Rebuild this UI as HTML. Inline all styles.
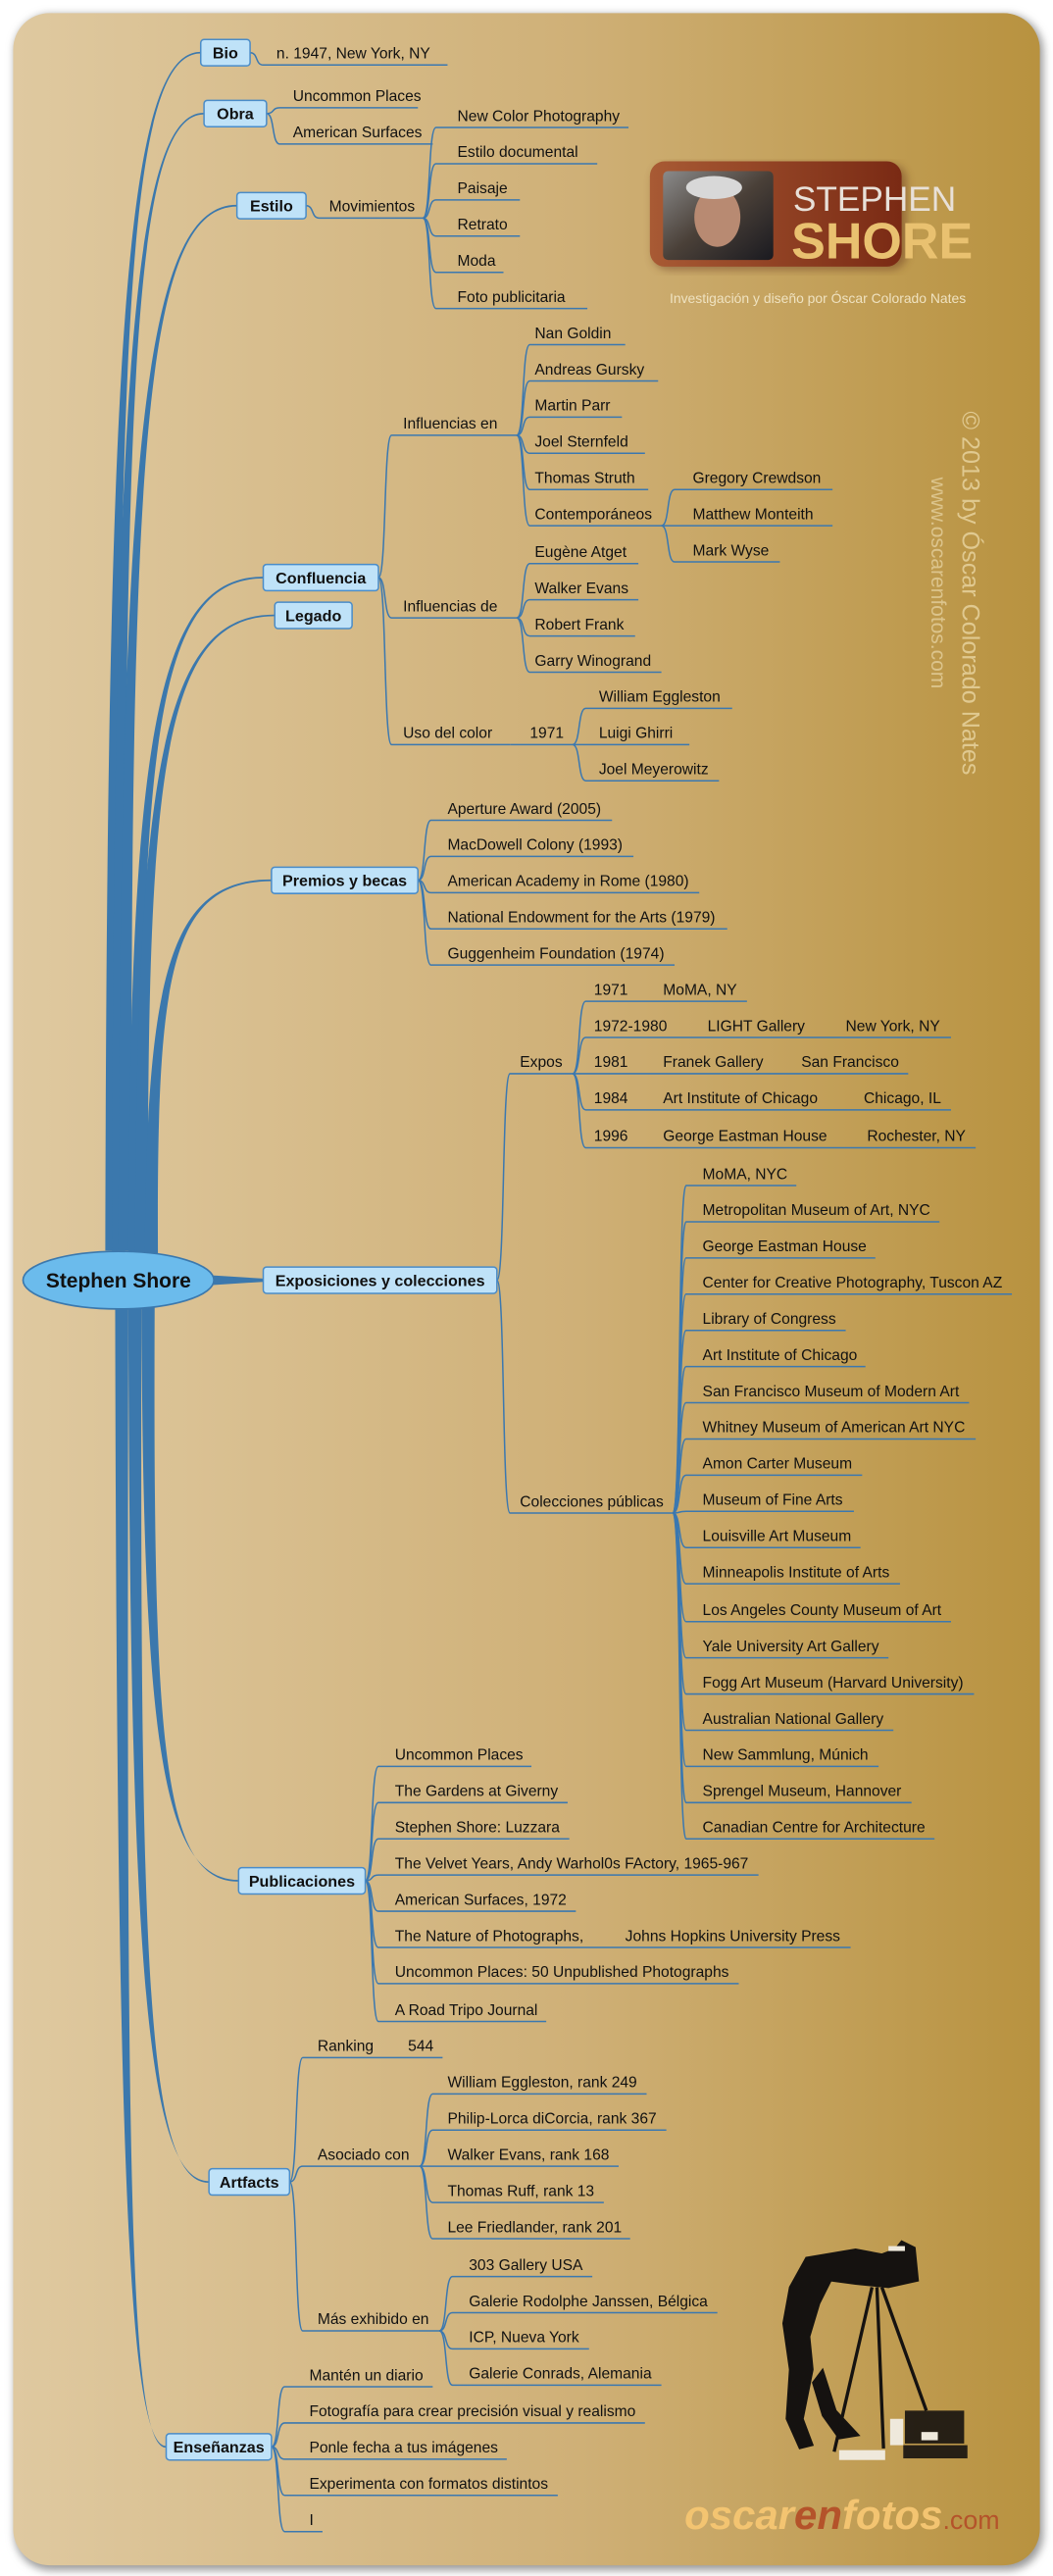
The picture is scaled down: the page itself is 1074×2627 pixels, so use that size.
<!DOCTYPE html>
<html><head><meta charset="utf-8">
<style>
html,body{margin:0;padding:0;background:#fff;}
svg{display:block;}
text{font-family:"Liberation Sans",sans-serif;font-size:9.3px;fill:#111;}
.bt{font-weight:bold;font-size:9.6px;}
</style></head>
<body>
<svg width="1074" height="2627" viewBox="0 0 640 1565.5" preserveAspectRatio="none" xmlns="http://www.w3.org/2000/svg">
<defs>
<linearGradient id="bg" x1="0" x2="1" y1="0" y2="0">
<stop offset="0" stop-color="#dfc9a0"/><stop offset="0.55" stop-color="#cfb077"/><stop offset="1" stop-color="#b8923f"/>
</linearGradient>
<linearGradient id="logo" x1="0" x2="1" y1="0" y2="0">
<stop offset="0" stop-color="#a85a34"/><stop offset="1" stop-color="#7a2a14"/>
</linearGradient>
<linearGradient id="photo" x1="0" x2="1" y1="0" y2="1">
<stop offset="0" stop-color="#8a8a8a"/><stop offset="0.5" stop-color="#4a4038"/><stop offset="1" stop-color="#1a1a20"/>
</linearGradient>
<filter id="sh" x="-5%" y="-5%" width="110%" height="110%"><feGaussianBlur stdDeviation="2.5"/></filter>
</defs>
<rect x="9" y="9" width="625" height="1553" rx="22" fill="#999" filter="url(#sh)"/>
<rect x="8" y="8" width="624" height="1551" rx="22" fill="url(#bg)"/>

<g fill="#3b78ad">
<path d="M64 760 C65 214 76 31.2 122 31.5 L122 32.5 C76 32.8 71 214 72 760Z"/>
<path d="M68 760 C69 242 80 68.2 124 68.5 L124 69.5 C80 69.8 75 242 76 760Z"/>
<path d="M72 760 C73 284 86 124.2 144 124.5 L144 125.5 C86 125.8 79 284 80 760Z"/>
<path d="M78 762 C79 454 94 350.2 160 350.5 L160 351.5 C94 351.8 85 454 86 762Z"/>
<path d="M82 762 C83 471 98 373.2 167 373.5 L167 374.5 C98 374.8 89 471 90 762Z"/>
<path d="M88 764 C89 592 103 534.2 165 534.5 L165 535.5 C103 535.8 95 592 96 764Z"/>
<path d="M86 794 C87 1056 98 1142.2 145 1142.5 L145 1143.5 C98 1143.8 93 1056 94 794Z"/>
<path d="M78 795 C79 1193 89 1325.2 127 1325.5 L127 1326.5 C89 1326.8 85 1193 86 795Z"/>
<path d="M70 795 C71 1314 78 1486.2 101 1486.5 L101 1487.5 C78 1487.8 77 1314 78 795Z"/>
<path d="M128 775 L160 777 L160 779 L128 781 Z"/>
</g>

<g fill="none" stroke="#3b78b0" stroke-width="0.9">
<path d="M152 32C157 32 155 39.5 160 39.5L272 39.5"/>
<path d="M162 69C167 69 165 65.5 170 65.5L254 65.5"/>
<path d="M162 69C167 69 165 87.5 170 87.5L263 87.5"/>
<path d="M186 125C191 125 189 132.5 194 132.5L257 132.5"/>
<path d="M257 132.5C262 132.5 260 77.5 265 77.5L382 77.5"/>
<path d="M257 132.5C262 132.5 260 99.5 265 99.5L363 99.5"/>
<path d="M257 132.5C262 132.5 260 121.5 265 121.5L316 121.5"/>
<path d="M257 132.5C262 132.5 260 143.5 265 143.5L316 143.5"/>
<path d="M257 132.5C262 132.5 260 165.5 265 165.5L306 165.5"/>
<path d="M257 132.5C262 132.5 260 187.5 265 187.5L357 187.5"/>
<path d="M230 351C235 351 233 264.5 238 264.5L314 264.5"/>
<path d="M230 351C235 351 233 375.5 238 375.5L314 375.5"/>
<path d="M230 351C235 351 233 452.5 238 452.5L310 452.5"/>
<path d="M314 264.5C319 264.5 317 209.5 322 209.5L380 209.5"/>
<path d="M314 264.5C319 264.5 317 231.5 322 231.5L400 231.5"/>
<path d="M314 264.5C319 264.5 317 253.5 322 253.5L378 253.5"/>
<path d="M314 264.5C319 264.5 317 275.5 322 275.5L392 275.5"/>
<path d="M314 264.5C319 264.5 317 297.5 322 297.5L394 297.5"/>
<path d="M314 264.5C319 264.5 317 319.5 322 319.5L402 319.5"/>
<path d="M402 319.5C407 319.5 405 297.5 410 297.5L506 297.5"/>
<path d="M402 319.5C407 319.5 405 319.5 410 319.5L506 319.5"/>
<path d="M402 319.5C407 319.5 405 341.5 410 341.5L474 341.5"/>
<path d="M314 375.5C319 375.5 317 342.5 322 342.5L388 342.5"/>
<path d="M314 375.5C319 375.5 317 364.5 322 364.5L388 364.5"/>
<path d="M314 375.5C319 375.5 317 386.5 322 386.5L386 386.5"/>
<path d="M314 375.5C319 375.5 317 408.5 322 408.5L402 408.5"/>
<path d="M310 452.5L348 452.5"/>
<path d="M348 452.5C353 452.5 351 430.5 356 430.5L445 430.5"/>
<path d="M348 452.5C353 452.5 351 452.5 356 452.5L419 452.5"/>
<path d="M348 452.5C353 452.5 351 474.5 356 474.5L437 474.5"/>
<path d="M254 535C259 535 257 498.5 262 498.5L372 498.5"/>
<path d="M254 535C259 535 257 520.5 262 520.5L385 520.5"/>
<path d="M254 535C259 535 257 542.5 262 542.5L425 542.5"/>
<path d="M254 535C259 535 257 564.5 262 564.5L442 564.5"/>
<path d="M254 535C259 535 257 586.5 262 586.5L410 586.5"/>
<path d="M302 778C307 778 305 652.5 310 652.5L348 652.5"/>
<path d="M302 778C307 778 305 919.5 310 919.5L409 919.5"/>
<path d="M348 652.5C353 652.5 351 608.5 356 608.5L454 608.5"/>
<path d="M348 652.5C353 652.5 351 630.5 356 630.5L578 630.5"/>
<path d="M348 652.5C353 652.5 351 652.5 356 652.5L552 652.5"/>
<path d="M348 652.5C353 652.5 351 674.5 356 674.5L578 674.5"/>
<path d="M348 652.5C353 652.5 351 697.5 356 697.5L593 697.5"/>
<path d="M409 919.5C414 919.5 412 720.5 417 720.5L484 720.5"/>
<path d="M409 919.5C414 919.5 412 742.5 417 742.5L571 742.5"/>
<path d="M409 919.5C414 919.5 412 764.5 417 764.5L532 764.5"/>
<path d="M409 919.5C414 919.5 412 786.5 417 786.5L615 786.5"/>
<path d="M409 919.5C414 919.5 412 808.5 417 808.5L514 808.5"/>
<path d="M409 919.5C414 919.5 412 830.5 417 830.5L526 830.5"/>
<path d="M409 919.5C414 919.5 412 852.5 417 852.5L589 852.5"/>
<path d="M409 919.5C414 919.5 412 874.5 417 874.5L593 874.5"/>
<path d="M409 919.5C414 919.5 412 896.5 417 896.5L524 896.5"/>
<path d="M409 919.5C414 919.5 412 918.5 417 918.5L519 918.5"/>
<path d="M409 919.5C414 919.5 412 940.5 417 940.5L523 940.5"/>
<path d="M409 919.5C414 919.5 412 962.5 417 962.5L547 962.5"/>
<path d="M409 919.5C414 919.5 412 985.5 417 985.5L578 985.5"/>
<path d="M409 919.5C414 919.5 412 1007.5 417 1007.5L540 1007.5"/>
<path d="M409 919.5C414 919.5 412 1029.5 417 1029.5L592 1029.5"/>
<path d="M409 919.5C414 919.5 412 1051.5 417 1051.5L543 1051.5"/>
<path d="M409 919.5C414 919.5 412 1073.5 417 1073.5L534 1073.5"/>
<path d="M409 919.5C414 919.5 412 1095.5 417 1095.5L554 1095.5"/>
<path d="M409 919.5C414 919.5 412 1117.5 417 1117.5L568 1117.5"/>
<path d="M222 1143C227 1143 225 1073.5 230 1073.5L323 1073.5"/>
<path d="M222 1143C227 1143 225 1095.5 230 1095.5L345 1095.5"/>
<path d="M222 1143C227 1143 225 1117.5 230 1117.5L346 1117.5"/>
<path d="M222 1143C227 1143 225 1139.5 230 1139.5L461 1139.5"/>
<path d="M222 1143C227 1143 225 1161.5 230 1161.5L350 1161.5"/>
<path d="M222 1143C227 1143 225 1183.5 230 1183.5L517 1183.5"/>
<path d="M222 1143C227 1143 225 1205.5 230 1205.5L449 1205.5"/>
<path d="M222 1143C227 1143 225 1228.5 230 1228.5L332 1228.5"/>
<path d="M176 1326C181 1326 179 1250.5 184 1250.5L269 1250.5"/>
<path d="M176 1326C181 1326 179 1316.5 184 1316.5L255 1316.5"/>
<path d="M176 1326C181 1326 179 1416.5 184 1416.5L267 1416.5"/>
<path d="M255 1316.5C260 1316.5 258 1272.5 263 1272.5L393 1272.5"/>
<path d="M255 1316.5C260 1316.5 258 1294.5 263 1294.5L405 1294.5"/>
<path d="M255 1316.5C260 1316.5 258 1316.5 263 1316.5L376 1316.5"/>
<path d="M255 1316.5C260 1316.5 258 1338.5 263 1338.5L367 1338.5"/>
<path d="M255 1316.5C260 1316.5 258 1360.5 263 1360.5L383 1360.5"/>
<path d="M267 1416.5C272 1416.5 270 1383.5 275 1383.5L360 1383.5"/>
<path d="M267 1416.5C272 1416.5 270 1405.5 275 1405.5L436 1405.5"/>
<path d="M267 1416.5C272 1416.5 270 1427.5 275 1427.5L358 1427.5"/>
<path d="M267 1416.5C272 1416.5 270 1449.5 275 1449.5L402 1449.5"/>
<path d="M165 1487C170 1487 168 1450.5 173 1450.5L263 1450.5"/>
<path d="M165 1487C170 1487 168 1472.5 173 1472.5L392 1472.5"/>
<path d="M165 1487C170 1487 168 1494.5 173 1494.5L308 1494.5"/>
<path d="M165 1487C170 1487 168 1516.5 173 1516.5L339 1516.5"/>
<path d="M165 1487C170 1487 168 1538.5 173 1538.5L196 1538.5"/>
</g>

<!-- logo -->
<rect x="397" y="100" width="154" height="64" rx="9" fill="#6a3a20" opacity="0.5" filter="url(#sh)"/>
<rect x="395" y="98" width="153" height="64" rx="9" fill="url(#logo)"/>
<rect x="403" y="104" width="67" height="54" rx="3" fill="url(#photo)"/>
<ellipse cx="436" cy="132" rx="14" ry="18" fill="#b88a72"/>
<ellipse cx="434" cy="114" rx="17" ry="7" fill="#d8d8d8"/>
<text x="482" y="128" style="font-size:21px;fill:#e8e0d8;">STEPHEN</text>
<text x="481" y="157" style="font-size:31px;font-weight:bold;fill:#e9c170;">SHORE</text>
<text x="407" y="184" style="font-size:8.3px;fill:#efe2c0;">Investigación y diseño por Óscar Colorado Nates</text>
<text transform="translate(585,250) rotate(90)" style="font-size:15px;fill:#e0c990;">© 2013 by Óscar Colorado Nates</text>
<text transform="translate(566,290) rotate(90)" style="font-size:12.5px;fill:#dcc48c;">www.oscarenfotos.com</text>

<!-- central -->
<ellipse cx="72" cy="778" rx="58" ry="17.5" fill="#6bbbec" stroke="#3b78ad" stroke-width="1"/>
<text x="72" y="782.5" text-anchor="middle" style="font-weight:bold;font-size:12.5px;">Stephen Shore</text>

<g fill="#bfe2f8" stroke="#4a8cc8" stroke-width="0.9">
<rect x="122" y="24" width="30" height="16" rx="2"/>
<rect x="124" y="61" width="38" height="16" rx="2"/>
<rect x="144" y="117" width="42" height="16" rx="2"/>
<rect x="160" y="343" width="70" height="16" rx="2"/>
<rect x="167" y="366" width="47" height="16" rx="2"/>
<rect x="165" y="527" width="89" height="16" rx="2"/>
<rect x="160" y="770" width="142" height="16" rx="2"/>
<rect x="145" y="1135" width="77" height="16" rx="2"/>
<rect x="127" y="1318" width="49" height="16" rx="2"/>
<rect x="101" y="1479" width="64" height="16" rx="2"/>
</g>
<text class="bt" x="137" y="35.5" text-anchor="middle">Bio</text>
<text class="bt" x="143" y="72.5" text-anchor="middle">Obra</text>
<text class="bt" x="165" y="128.5" text-anchor="middle">Estilo</text>
<text class="bt" x="195" y="354.5" text-anchor="middle">Confluencia</text>
<text class="bt" x="190.5" y="377.5" text-anchor="middle">Legado</text>
<text class="bt" x="209.5" y="538.5" text-anchor="middle">Premios y becas</text>
<text class="bt" x="231" y="781.5" text-anchor="middle">Exposiciones y colecciones</text>
<text class="bt" x="183.5" y="1146.5" text-anchor="middle">Publicaciones</text>
<text class="bt" x="151.5" y="1329.5" text-anchor="middle">Artfacts</text>
<text class="bt" x="133" y="1490.5" text-anchor="middle">Enseñanzas</text>

<g>
<text x="168" y="35.5">n. 1947, New York, NY</text>
<text x="178" y="61.5">Uncommon Places</text>
<text x="178" y="83.5">American Surfaces</text>
<text x="200" y="128.5">Movimientos</text>
<text x="278" y="73.5">New Color Photography</text>
<text x="278" y="95.5">Estilo documental</text>
<text x="278" y="117.5">Paisaje</text>
<text x="278" y="139.5">Retrato</text>
<text x="278" y="161.5">Moda</text>
<text x="278" y="183.5">Foto publicitaria</text>
<text x="245" y="260.5">Influencias en</text>
<text x="325" y="205.5">Nan Goldin</text>
<text x="325" y="227.5">Andreas Gursky</text>
<text x="325" y="249.5">Martin Parr</text>
<text x="325" y="271.5">Joel Sternfeld</text>
<text x="325" y="293.5">Thomas Struth</text>
<text x="325" y="315.5">Contemporáneos</text>
<text x="421" y="293.5">Gregory Crewdson</text>
<text x="421" y="315.5">Matthew Monteith</text>
<text x="421" y="337.5">Mark Wyse</text>
<text x="245" y="371.5">Influencias de</text>
<text x="325" y="338.5">Eugène Atget</text>
<text x="325" y="360.5">Walker Evans</text>
<text x="325" y="382.5">Robert Frank</text>
<text x="325" y="404.5">Garry Winogrand</text>
<text x="245" y="448.5">Uso del color</text>
<text x="322" y="448.5">1971</text>
<text x="364" y="426.5">William Eggleston</text>
<text x="364" y="448.5">Luigi Ghirri</text>
<text x="364" y="470.5">Joel Meyerowitz</text>
<text x="272" y="494.5">Aperture Award (2005)</text>
<text x="272" y="516.5">MacDowell Colony (1993)</text>
<text x="272" y="538.5">American Academy in Rome (1980)</text>
<text x="272" y="560.5">National Endowment for the Arts (1979)</text>
<text x="272" y="582.5">Guggenheim Foundation (1974)</text>
<text x="316" y="648.5">Expos</text>
<text x="361" y="604.5">1971</text>
<text x="403" y="604.5">MoMA, NY</text>
<text x="361" y="626.5">1972-1980</text>
<text x="430" y="626.5">LIGHT Gallery</text>
<text x="514" y="626.5">New York, NY</text>
<text x="361" y="648.5">1981</text>
<text x="403" y="648.5">Franek Gallery</text>
<text x="487" y="648.5">San Francisco</text>
<text x="361" y="670.5">1984</text>
<text x="403" y="670.5">Art Institute of Chicago</text>
<text x="525" y="670.5">Chicago, IL</text>
<text x="361" y="693.5">1996</text>
<text x="403" y="693.5">George Eastman House</text>
<text x="527" y="693.5">Rochester, NY</text>
<text x="316" y="915.5">Colecciones públicas</text>
<text x="427" y="716.5">MoMA, NYC</text>
<text x="427" y="738.5">Metropolitan Museum of Art, NYC</text>
<text x="427" y="760.5">George Eastman House</text>
<text x="427" y="782.5">Center for Creative Photography, Tuscon AZ</text>
<text x="427" y="804.5">Library of Congress</text>
<text x="427" y="826.5">Art Institute of Chicago</text>
<text x="427" y="848.5">San Francisco Museum of Modern Art</text>
<text x="427" y="870.5">Whitney Museum of American Art NYC</text>
<text x="427" y="892.5">Amon Carter Museum</text>
<text x="427" y="914.5">Museum of Fine Arts</text>
<text x="427" y="936.5">Louisville Art Museum</text>
<text x="427" y="958.5">Minneapolis Institute of Arts</text>
<text x="427" y="981.5">Los Angeles County Museum of Art</text>
<text x="427" y="1003.5">Yale University Art Gallery</text>
<text x="427" y="1025.5">Fogg Art Museum (Harvard University)</text>
<text x="427" y="1047.5">Australian National Gallery</text>
<text x="427" y="1069.5">New Sammlung, Múnich</text>
<text x="427" y="1091.5">Sprengel Museum, Hannover</text>
<text x="427" y="1113.5">Canadian Centre for Architecture</text>
<text x="240" y="1069.5">Uncommon Places</text>
<text x="240" y="1091.5">The Gardens at Giverny</text>
<text x="240" y="1113.5">Stephen Shore: Luzzara</text>
<text x="240" y="1135.5">The Velvet Years, Andy Warhol0s FActory, 1965-967</text>
<text x="240" y="1157.5">American Surfaces, 1972</text>
<text x="240" y="1179.5">The Nature of Photographs,</text>
<text x="380" y="1179.5">Johns Hopkins University Press</text>
<text x="240" y="1201.5">Uncommon Places: 50 Unpublished Photographs</text>
<text x="240" y="1224.5">A Road Tripo Journal</text>
<text x="193" y="1246.5">Ranking</text>
<text x="248" y="1246.5">544</text>
<text x="193" y="1312.5">Asociado con</text>
<text x="272" y="1268.5">William Eggleston, rank 249</text>
<text x="272" y="1290.5">Philip-Lorca diCorcia, rank 367</text>
<text x="272" y="1312.5">Walker Evans, rank 168</text>
<text x="272" y="1334.5">Thomas Ruff, rank 13</text>
<text x="272" y="1356.5">Lee Friedlander, rank 201</text>
<text x="193" y="1412.5">Más exhibido en</text>
<text x="285" y="1379.5">303 Gallery USA</text>
<text x="285" y="1401.5">Galerie Rodolphe Janssen, Bélgica</text>
<text x="285" y="1423.5">ICP, Nueva York</text>
<text x="285" y="1445.5">Galerie Conrads, Alemania</text>
<text x="188" y="1446.5">Mantén un diario</text>
<text x="188" y="1468.5">Fotografía para crear precisión visual y realismo</text>
<text x="188" y="1490.5">Ponle fecha a tus imágenes</text>
<text x="188" y="1512.5">Experimenta con formatos distintos</text>
<text x="188" y="1534.5">I</text>
</g>

<!-- photographer illustration -->
<g fill="#151210" stroke="#151210">
<path d="M490 1372 L520 1367 L536 1370 L544 1367 L548 1362 L556 1366 L558 1386 L540 1390 L520 1388 L505 1386 L498 1400 L492 1420 L494 1440 L488 1470 L494 1486 L486 1488 L478 1470 L480 1440 L476 1412 L480 1390 Z"/>
<path d="M500 1440 L508 1465 L522 1480 L510 1482 L500 1468 L494 1448 Z"/>
<line x1="530" y1="1390" x2="507" y2="1490" stroke-width="2"/>
<line x1="533" y1="1390" x2="537" y2="1488" stroke-width="2"/>
<line x1="536" y1="1390" x2="563" y2="1465" stroke-width="2"/>
<rect x="550" y="1465" width="36" height="20" stroke="none" opacity="0.9"/>
<rect x="549" y="1486" width="39" height="8" stroke="none" opacity="0.9"/>
</g>
<g fill="#efe9dc" stroke="none">
<rect x="541" y="1470" width="8" height="16"/>
<rect x="510" y="1489" width="28" height="6"/>
<rect x="560" y="1478" width="10" height="5"/>
<rect x="540" y="1365" width="10" height="3"/>
</g>
<text x="416" y="1537" style="font-size:25px;font-weight:bold;font-style:italic;fill:#f3c471;">oscar<tspan style="fill:#b4532a;">en</tspan>fotos<tspan style="font-weight:normal;font-style:normal;font-size:16px;fill:#b4532a;">.com</tspan></text>
</svg>
</body></html>
